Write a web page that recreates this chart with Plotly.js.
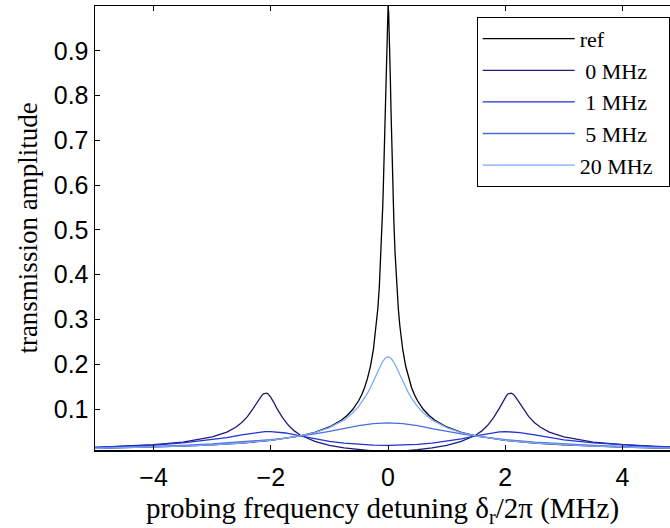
<!DOCTYPE html>
<html>
<head>
<meta charset="utf-8">
<script src="https://cdn.plot.ly/plotly-3.0.1.min.js"></script>
<style>html,body{margin:0;padding:0;background:#fff;}#chart{width:670px;height:528px;}</style>
</head>
<body>
<div id="chart"></div>
<script>
// Reference cavity (no spins)
const refX = [-5,-4.5,-4,-3.5,-3,-2.5,-2,-1.5,-1.25,-1,-0.8,-0.7,-0.6,-0.5,-0.45,-0.4,-0.35,-0.3,-0.25,-0.2,-0.175,-0.15,-0.12,-0.1,-0.09,-0.08,-0.07,-0.06,-0.05,-0.04,-0.03,-0.02,-0.01,0,0.01,0.02,0.03,0.04,0.05,0.06,0.07,0.08,0.09,0.1,0.12,0.15,0.175,0.2,0.25,0.3,0.35,0.4,0.45,0.5,0.6,0.7,0.8,1,1.25,1.5,2,2.5,3,3.5,4,4.5,5];
const refY = [0.012,0.0133,0.015,0.0171,0.020,0.024,0.030,0.040,0.048,0.0599,0.0748,0.0854,0.0995,0.119,0.132,0.148,0.169,0.196,0.233,0.287,0.324,0.371,0.447,0.514,0.555,0.600,0.651,0.707,0.768,0.832,0.894,0.949,0.986,1.0,0.986,0.949,0.894,0.832,0.768,0.707,0.651,0.600,0.555,0.514,0.447,0.371,0.324,0.287,0.233,0.196,0.169,0.148,0.132,0.119,0.0995,0.0854,0.0748,0.0599,0.048,0.040,0.030,0.024,0.020,0.0171,0.015,0.0133,0.012];

// 0 MHz
const zeroX = [-5,-4.5,-4,-3.5,-3,-2.75,-2.6,-2.5,-2.4,-2.3,-2.2,-2.15,-2.125,-2.1,-2.075,-2.05,-2.025,-2,-1.95,-1.9,-1.8,-1.7,-1.6,-1.5,-1.25,-1,-0.75,-0.5,-0.25,0,0.25,0.5,0.75,1,1.25,1.5,1.6,1.7,1.8,1.9,1.95,2,2.025,2.05,2.075,2.1,2.125,2.15,2.2,2.3,2.4,2.5,2.6,2.75,3,3.5,4,4.5,5];
const zeroY = [0.0145,0.0169,0.0205,0.0263,0.0376,0.0486,0.0592,0.0693,0.083,0.1016,0.122,0.131,0.134,0.1355,0.1355,0.134,0.131,0.126,0.115,0.102,0.081,0.0637,0.0512,0.042,0.0276,0.019,0.0132,0.0092,0.0063,0.0052,0.0063,0.0092,0.0132,0.019,0.0276,0.042,0.0512,0.0637,0.081,0.102,0.115,0.126,0.131,0.134,0.1355,0.1355,0.134,0.131,0.122,0.1016,0.083,0.0693,0.0592,0.0486,0.0376,0.0263,0.0205,0.0169,0.0145];

// 1 MHz
const oneX = [-5,-4.5,-4,-3.5,-3,-2.75,-2.5,-2.25,-2.1,-2,-1.9,-1.75,-1.5,-1.25,-1,-0.75,-0.5,-0.25,0,0.25,0.5,0.75,1,1.25,1.5,1.75,1.9,2,2.1,2.25,2.5,2.75,3,3.5,4,4.5,5];
const oneY = [0.0143,0.0165,0.0196,0.0242,0.0313,0.0363,0.0421,0.0475,0.0494,0.0497,0.049,0.0465,0.040,0.0333,0.0278,0.0238,0.0211,0.0195,0.019,0.0195,0.0211,0.0238,0.0278,0.0333,0.040,0.0465,0.049,0.0497,0.0494,0.0475,0.0421,0.0363,0.0313,0.0242,0.0196,0.0165,0.0143];

// 5 MHz
const fiveX = [-5,-4.5,-4,-3.5,-3,-2.5,-2,-1.75,-1.5,-1.25,-1,-0.75,-0.5,-0.25,0,0.25,0.5,0.75,1,1.25,1.5,1.75,2,2.5,3,3.5,4,4.5,5];
const fiveY = [0.013,0.0145,0.0164,0.0188,0.0219,0.026,0.0316,0.0352,0.0394,0.0443,0.050,0.0563,0.0628,0.0672,0.069,0.0672,0.0628,0.0563,0.050,0.0443,0.0394,0.0352,0.0316,0.026,0.0219,0.0188,0.0164,0.0145,0.013];

// 20 MHz
const twentyX = [-5,-4.5,-4,-3.5,-3,-2.5,-2,-1.5,-1.25,-1,-0.75,-0.6,-0.5,-0.4,-0.35,-0.3,-0.25,-0.2,-0.15,-0.1,-0.05,0,0.05,0.1,0.15,0.2,0.25,0.3,0.35,0.4,0.5,0.6,0.75,1,1.25,1.5,2,2.5,3,3.5,4,4.5,5];
const twentyY = [0.0121,0.0134,0.0151,0.0173,0.0201,0.0241,0.030,0.0398,0.0474,0.0584,0.0758,0.0917,0.1059,0.1243,0.1354,0.148,0.1617,0.1765,0.1912,0.2043,0.2136,0.217,0.2136,0.2043,0.1912,0.1765,0.1617,0.148,0.1354,0.1243,0.1059,0.0917,0.0758,0.0584,0.0474,0.0398,0.030,0.0241,0.0201,0.0173,0.0151,0.0134,0.0121];

const pad = '\u00a0\u00a0';
const names = ['ref' + pad, '\u00a00 MHz' + pad, '\u00a01 MHz' + pad, '\u00a05 MHz' + pad, '20 MHz' + pad];
const colors = ['#000000', '#1c1c78', '#1f33d6', '#4a6de6', '#7fa6ff'];
const xs = [refX, zeroX, oneX, fiveX, twentyX];
const ys = [refY, zeroY, oneY, fiveY, twentyY];

const traces = xs.map((x, i) => ({
  x: x, y: ys[i], type: 'scatter', mode: 'lines', name: names[i],
  legendgroup: 'g' + i,
  line: {color: colors[i], width: 1.3}
}));

const tickFont = {family: 'Liberation Sans, Arial, sans-serif', size: 25, color: '#000'};
const serif = 'Liberation Serif, Times New Roman, serif';

const layout = {
  width: 670, height: 528,
  margin: {l: 95, r: 0, t: 6, b: 78},
  paper_bgcolor: '#fff', plot_bgcolor: '#fff',
  showlegend: true,
  xaxis: {
    range: [-5, 4.81], tickvals: [-4, -2, 0, 2, 4],
    ticks: 'inside', ticklen: 5, tickwidth: 1, tickcolor: '#000',
    showline: true, linecolor: '#000', linewidth: 1.5, mirror: 'ticks',
    showgrid: false, zeroline: false, tickfont: tickFont, automargin: false,
    ticklabelstandoff: 4,
    title: {text: 'probing frequency detuning δ<sub>r</sub>/2π (MHz)', font: {family: serif, size: 29, color: '#000'}, standoff: 12}
  },
  yaxis: {
    range: [0.0085, 1.0], tickvals: [0.1,0.2,0.3,0.4,0.5,0.6,0.7,0.8,0.9],
    ticktext: ['0.1','0.2','0.3','0.4','0.5','0.6','0.7','0.8','0.9'],
    ticks: 'inside', ticklen: 5, tickwidth: 1, tickcolor: '#000',
    showline: true, linecolor: '#000', linewidth: 1.5, mirror: false,
    showgrid: false, zeroline: false, tickfont: tickFont, automargin: false,
    title: {text: 'transmission amplitude', font: {family: serif, size: 27, color: '#000'}, standoff: 8}
  },
  legend: {
    x: 0.9995, y: 0.9755, xanchor: 'right', yanchor: 'top',
    bgcolor: '#fff', bordercolor: '#000', borderwidth: 1,
    font: {family: serif, size: 22, color: '#000'},
    itemwidth: 92, traceorder: 'grouped', tracegroupgap: 0
  }
};

Plotly.newPlot('chart', traces, layout, {displayModeBar: false, staticPlot: true});
</script>
</body>
</html>
